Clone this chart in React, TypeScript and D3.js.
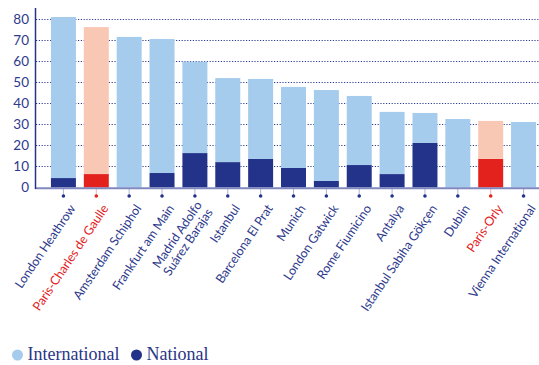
import { useEffect, useRef } from 'react'
import * as d3 from 'd3'

// airports, in the order shown
const airports = [
  'London Heathrow', 'Paris-Charles de Gaulle', 'Amsterdam Schiphol', 'Frankfurt am Main',
  'Madrid Adolfo\nSuárez Barajas', 'Istanbul', 'Barcelona El Prat', 'Munich', 'London Gatwick',
  'Rome Fiumicino', 'Antalya', 'Istanbul Sabiha Gökçen', 'Dublin', 'Paris-Orly', 'Vienna International',
]
// passengers (millions)
const national      = [4.5, 6.4, 0, 6.9, 16.4, 12.1, 13.6, 9.3, 3.1, 10.7, 6.4, 21.2, 0, 13.6, 0]
const international = [76.7, 70.0, 71.7, 63.8, 43.5, 40.0, 38.1, 38.6, 43.3, 32.9, 29.6, 14.3, 32.6, 18.1, 31.2]
const highlight     = ['Paris-Charles de Gaulle', 'Paris-Orly']
const yTicks        = [0, 10, 20, 30, 40, 50, 60, 70, 80]

const NAVY = '#24338a'
const LIGHT = '#a5cbed'
const RED = '#e3211d'
const PEACH = '#f9c8b4'
const TEXT = '#2e3a8c'

export default function App() {
  const svgRef = useRef<SVGSVGElement>(null)

  useEffect(() => {
    if (!svgRef.current) return
    const svg = d3.select(svgRef.current)
    svg.selectAll('*').remove()

    const W = 539, H = 365
    svg.attr('width', W).attr('height', H)

    const x = d3.scaleBand<string>().domain(airports).range([47, 540]).paddingInner(0.24).paddingOuter(0.12)
    const y = d3.scaleLinear().domain([0, 85]).range([187.5, 9])
    const isHi = (a: string) => highlight.includes(a.replace('\n', ' '))

    // grid
    svg.append('g').selectAll('line')
      .data(yTicks.filter(t => t > 0))
      .join('line')
      .attr('x1', 36).attr('x2', W)
      .attr('y1', d => y(d)).attr('y2', d => y(d))
      .attr('stroke', '#2e3d94').attr('stroke-width', 1)
      .attr('stroke-dasharray', '1.2 1.6')

    // y labels
    svg.append('g').selectAll('text')
      .data(yTicks)
      .join('text')
      .attr('x', 29).attr('y', d => y(d))
      .attr('dy', '0.36em')
      .attr('text-anchor', 'end')
      .attr('font-family', 'Lato, sans-serif')
      .attr('font-size', 13.5)
      .attr('fill', TEXT)
      .text(d => d)

    // stacked bars
    const rows = airports.map((a, i) => ({ a, national: national[i], international: international[i] }))
    const stack = d3.stack<any>().keys(['national', 'international'])(rows)
    stack.forEach((layer, li) => {
      svg.append('g').selectAll('rect')
        .data(layer)
        .join('rect')
        .attr('x', d => x(d.data.a)!)
        .attr('width', x.bandwidth())
        .attr('y', d => y(d[1]))
        .attr('height', d => y(d[0]) - y(d[1]))
        .attr('fill', d => li === 0 ? (isHi(d.data.a) ? RED : NAVY) : (isHi(d.data.a) ? PEACH : LIGHT))
    })

    // axes
    svg.append('line')
      .attr('x1', 35).attr('x2', W).attr('y1', 188.2).attr('y2', 188.2)
      .attr('stroke', '#8088c0').attr('stroke-width', 2)
    svg.append('line')
      .attr('x1', 35.5).attr('x2', 35.5).attr('y1', 8).attr('y2', 189)
      .attr('stroke', NAVY).attr('stroke-width', 1.5)

    // ticks with dots
    const ticks = svg.append('g').selectAll('g')
      .data(airports)
      .join('g')
      .attr('transform', d => `translate(${x(d)! + x.bandwidth() / 2},0)`)
    ticks.append('line')
      .attr('y1', 189).attr('y2', 196)
      .attr('stroke', d => isHi(d) ? RED : NAVY).attr('stroke-width', 0.6).attr('opacity', 0.6)
    ticks.append('circle')
      .attr('cy', 196).attr('r', 1.8)
      .attr('fill', d => isHi(d) ? RED : NAVY)

    // x labels
    const labels = ticks.append('text')
      .attr('transform', 'translate(9,206) rotate(-56)')
      .attr('text-anchor', 'end')
      .attr('font-family', 'Lato, sans-serif')
      .attr('font-size', 12.5)
      .attr('letter-spacing', -0.1)
      .attr('fill', d => isHi(d) ? RED : TEXT)
    labels.each(function (d) {
      const parts = d.split('\n')
      const t = d3.select(this)
      parts.forEach((p, i) => {
        t.append('tspan')
          .attr('x', 0)
          .attr('dy', i === 0 ? `${0.35 - (parts.length - 1) * 0.5}em` : '1.05em')
          .text(p)
      })
    })

    // legend
    const legend = [
      { label: 'International', color: LIGHT, x: 17.5 },
      { label: 'National', color: NAVY, x: 136.5 },
    ]
    const lg = svg.append('g').selectAll('g').data(legend).join('g')
    lg.append('circle').attr('cx', d => d.x).attr('cy', 355).attr('r', 5.5).attr('fill', d => d.color)
    lg.append('text')
      .attr('x', d => d.x + 10).attr('y', 360)
      .style('font-family', "'Liberation Serif', 'DejaVu Serif', serif")
      .attr('font-size', 18)
      .attr('fill', '#2a3585')
      .text(d => d.label)
  }, [])

  return <svg ref={svgRef} style={{ position: 'absolute', left: 0, top: 0 }} />
}
